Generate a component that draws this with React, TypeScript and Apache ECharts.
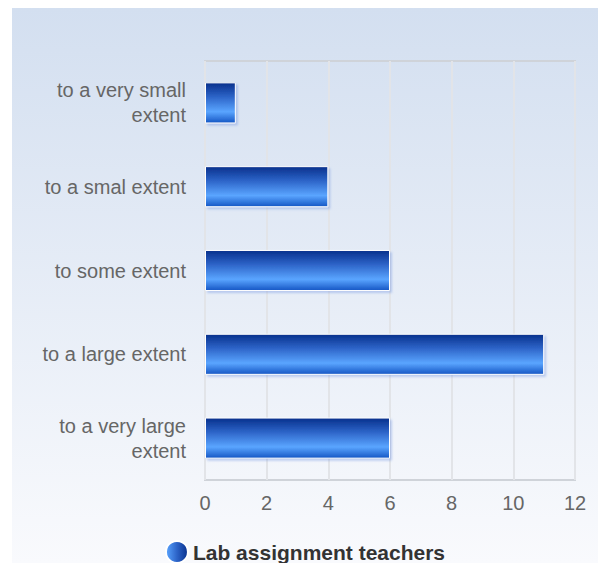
import React, { useEffect, useRef } from "react";
import * as echarts from "echarts";

const categories = [
  "to a very small\nextent",
  "to a smal extent",
  "to some extent",
  "to a large extent",
  "to a very large\nextent",
];
const values = [1, 4, 6, 11, 6];
const seriesName = "Lab assignment teachers";
const xTicks = { min: 0, max: 12, interval: 2 };

const FONT = "Liberation Sans";

export default function App() {
  const ref = useRef<HTMLDivElement>(null);
  useEffect(() => {
    if (!ref.current) return;
    const chart = echarts.init(ref.current, undefined, { renderer: "svg" });
    const barGrad = new echarts.graphic.LinearGradient(0, 0, 0, 1, [
      { offset: 0, color: "#08308c" },
      { offset: 0.35, color: "#2d64c8" },
      { offset: 0.72, color: "#5aa5ff" },
      { offset: 1, color: "#1556c4" },
    ]);
    const legendGrad = new echarts.graphic.LinearGradient(0, 0, 1, 0, [
      { offset: 0, color: "#5aa5ff" },
      { offset: 0.5, color: "#2d64c8" },
      { offset: 1, color: "#08308c" },
    ]);
    chart.setOption({
      animation: false,
      backgroundColor: new echarts.graphic.LinearGradient(0, 0, 0, 1, [
        { offset: 0, color: "#d3dff0" },
        { offset: 1, color: "#f9fafd" },
      ]),
      textStyle: { fontFamily: FONT },
      grid: {
        left: 193,
        top: 53,
        right: 23,
        bottom: 83,
        show: true,
        borderColor: "#cfd3d9",
        borderWidth: 2,
      },
      legend: {
        top: 527,
        left: "center",
        padding: 5,
        data: [{ name: seriesName, icon: "circle", itemStyle: { color: legendGrad } }],
        itemWidth: 22,
        itemHeight: 22,
        itemGap: 6,
        textStyle: { fontSize: 21, fontWeight: "bold", color: "#333", fontFamily: FONT },
      },
      xAxis: {
        type: "value",
        min: xTicks.min,
        max: xTicks.max,
        interval: xTicks.interval,
        axisLine: { show: false },
        axisTick: { show: false },
        axisLabel: { fontSize: 20, color: "#666", margin: 13, fontFamily: FONT },
        splitLine: { lineStyle: { color: "#e2e4e8", width: 2 } },
      },
      yAxis: {
        type: "category",
        inverse: true,
        data: categories,
        axisLine: { show: false },
        axisTick: { show: false },
        axisLabel: {
          fontSize: 20,
          color: "#666",
          margin: 19,
          lineHeight: 25,
          align: "right",
          fontFamily: FONT,
        },
        splitLine: { show: false },
      },
      series: [
        {
          name: seriesName,
          type: "bar",
          data: values,
          barCategoryGap: "51%",
          itemStyle: {
            color: barGrad,
            borderColor: "#ffffff",
            borderWidth: 1,
            shadowColor: "rgba(90,130,220,0.35)",
            shadowOffsetX: 2,
            shadowOffsetY: 2,
            shadowBlur: 2,
          },
        },
      ],
    });
    return () => chart.dispose();
  }, []);
  return (
    <div
      ref={ref}
      style={{ position: "absolute", left: 12, top: 8, width: 586, height: 555 }}
    />
  );
}
